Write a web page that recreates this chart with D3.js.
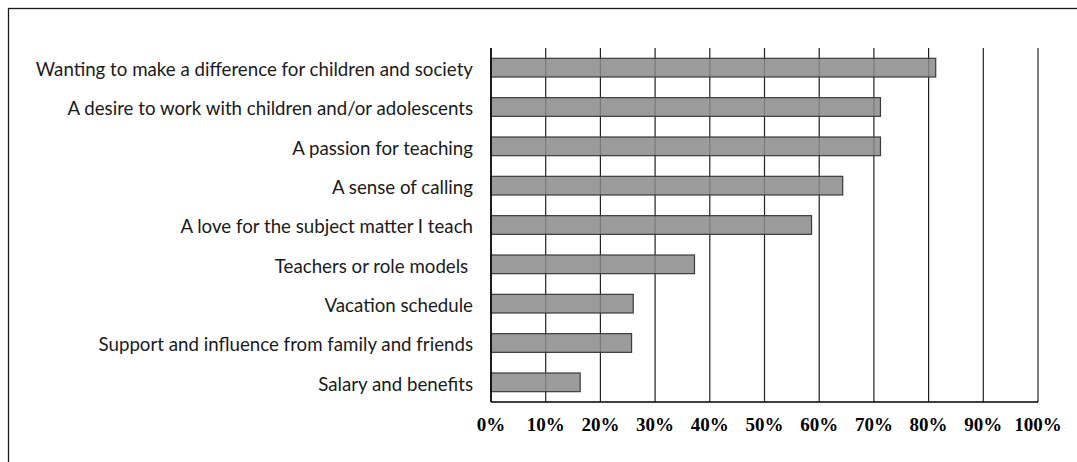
<!DOCTYPE html>
<html>
<head>
<meta charset="utf-8">
<script src="https://cdn.jsdelivr.net/npm/d3@7/dist/d3.min.js"></script>
<style>
  body { margin: 0; background: #fff; }
  .cat { white-space: pre; }
</style>
</head>
<body>
<div id="chart"></div>
<script>
// reasons for becoming a teacher, share of respondents
var reasons = [
    "Wanting to make a difference for children and society",
    "A desire to work with children and/or adolescents",
    "A passion for teaching",
    "A sense of calling",
    "A love for the subject matter I teach",
    "Teachers or role models ",
    "Vacation schedule",
    "Support and influence from family and friends",
    "Salary and benefits"
];
var shares = [81.3, 71.2, 71.2, 64.3, 58.6, 37.2, 26.0, 25.7, 16.3];
var tickValues = [0, 10, 20, 30, 40, 50, 60, 70, 80, 90, 100];

var svgWidth = 1077;
var svgHeight = 462;
var margin = { top: 48, right: 39, bottom: 60, left: 491 };
var width = svgWidth - margin.left - margin.right;
var height = svgHeight - margin.top - margin.bottom;

var root = d3.select("#chart")
    .append("svg")
    .attr("width", svgWidth)
    .attr("height", svgHeight);

// outer frame (runs off the bottom and right of the picture)
root.append("rect")
    .attr("x", 8.5)
    .attr("y", 8.5)
    .attr("width", 1200)
    .attr("height", 600)
    .attr("fill", "none")
    .attr("stroke", "#1a1a1a")
    .attr("stroke-width", 1.3);

var svg = root.append("g")
    .attr("transform", "translate(" + margin.left + "," + margin.top + ")");

var x = d3.scaleLinear()
    .domain([0, 100])
    .range([0, width]);

var y = d3.scaleBand()
    .domain(reasons)
    .range([0, height])
    .paddingInner(0.525)
    .paddingOuter(0.2625);

// vertical grid lines
svg.append("g")
    .selectAll("line")
    .data(tickValues)
    .enter()
    .append("line")
    .attr("x1", function (d) { return x(d); })
    .attr("x2", function (d) { return x(d); })
    .attr("y1", 0)
    .attr("y2", height)
    .attr("stroke", "#222")
    .attr("stroke-width", 1.2);

// bars
svg.append("g")
    .selectAll("rect")
    .data(shares)
    .enter()
    .append("rect")
    .attr("x", x(0))
    .attr("y", function (d, i) { return y(reasons[i]); })
    .attr("width", function (d) { return x(d) - x(0); })
    .attr("height", y.bandwidth())
    .attr("fill", "#898989")
    .attr("fill-opacity", 0.85)
    .attr("stroke", "#3a3a3a")
    .attr("stroke-width", 1.2);

// category labels
svg.append("g")
    .selectAll("text")
    .data(reasons)
    .enter()
    .append("text")
    .attr("class", "cat")
    .attr("x", -18)
    .attr("y", function (d) { return y(d) + y.bandwidth() / 2; })
    .attr("dy", "0.45em")
    .attr("text-anchor", "end")
    .attr("font-family", "Lato, sans-serif")
    .attr("font-size", 18.7)
    .attr("fill", "#1a1a1a")
    .text(function (d) { return d; });

// axis lines
svg.append("line")
    .attr("x1", 0).attr("x2", 0)
    .attr("y1", 0).attr("y2", height)
    .attr("stroke", "#000")
    .attr("stroke-width", 1.5);

svg.append("line")
    .attr("x1", 0).attr("x2", width)
    .attr("y1", height).attr("y2", height)
    .attr("stroke", "#000")
    .attr("stroke-width", 1.5);

// tick labels
svg.append("g")
    .selectAll("text")
    .data(tickValues)
    .enter()
    .append("text")
    .attr("x", function (d) { return x(d); })
    .attr("y", height + 29)
    .attr("text-anchor", "middle")
    .attr("font-family", "'Liberation Serif', 'Times New Roman', serif")
    .attr("font-weight", "bold")
    .attr("font-size", 19)
    .attr("fill", "#000")
    .text(function (d) { return d + "%"; });
</script>
</body>
</html>
